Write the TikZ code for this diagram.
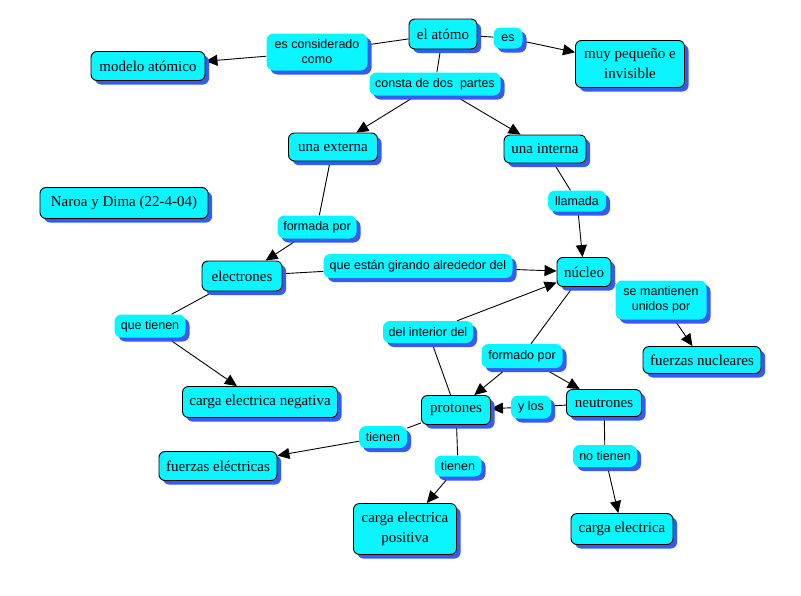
\documentclass[tikz,border=0pt]{standalone}
\usepackage{fontspec}
\setmainfont{Liberation Serif}
\newfontfamily\linkfont{Liberation Sans}
\usetikzlibrary{arrows.meta,shadows,backgrounds}
\definecolor{cmapcyan}{RGB}{10,245,255}
\definecolor{cmapshadow}{RGB}{55,90,240}
\tikzset{
  concept/.style={draw=black, line width=0.9pt, fill=cmapcyan, rounded corners=6pt,
    drop shadow={shadow xshift=4pt, shadow yshift=-4pt, fill=cmapshadow, opacity=1},
    font=\fontsize{15}{20}\selectfont, align=center, inner sep=1pt},
  linkph/.style={fill=cmapcyan, rounded corners=7pt,
    drop shadow={shadow xshift=4pt, shadow yshift=-4pt, fill=cmapshadow, opacity=1},
    font=\linkfont\fontsize{12.5}{15}\selectfont, align=center, inner sep=1pt},
  conn/.style={line width=0.9pt, draw=black},
  arr/.style={conn, -{Triangle[length=12pt,width=11pt]}},
}
\begin{document}
\begin{tikzpicture}[x=1pt,y=-1pt]
\useasboundingbox (0,0) rectangle (801,595);
% concepts
\node[concept, minimum width=68pt, minimum height=30pt] (atomo) at (443,34) {el atómo};
\node[concept, minimum width=114pt, minimum height=29pt] (modelo) at (148,66) {modelo atómico};
\node[concept, minimum width=109pt, minimum height=47pt] (muy) at (630,64) {muy pequeño e\\invisible};
\node[concept, minimum width=89pt, minimum height=28pt] (externa) at (333,147) {una externa};
\node[concept, minimum width=82pt, minimum height=28pt] (interna) at (545,149) {una interna};
\node[concept, minimum width=168pt, minimum height=31pt] (naroa) at (124,203) {Naroa y Dima (22-4-04)};
\node[concept, minimum width=80pt, minimum height=30pt] (electrones) at (242,276) {electrones};
\node[concept, minimum width=54pt, minimum height=29pt] (nucleo) at (584,272) {núcleo};
\node[concept, minimum width=118pt, minimum height=27pt] (fnuc) at (702,360) {fuerzas nucleares};
\node[concept, minimum width=155pt, minimum height=31pt] (cneg) at (260,402) {carga electrica negativa};
\node[concept, minimum width=69pt, minimum height=29pt] (protones) at (456,410) {protones};
\node[concept, minimum width=118pt, minimum height=29pt] (felec) at (218,466) {fuerzas eléctricas};
\node[concept, minimum width=103pt, minimum height=51pt] (cpos) at (405,529) {carga electrica\\positiva};
\node[concept, minimum width=75pt, minimum height=27pt] (neutrones) at (604,403) {neutrones};
\node[concept, minimum width=102pt, minimum height=31pt] (carga) at (622,529) {carga electrica};
% linking phrases
\node[linkph, minimum width=101pt, minimum height=37pt] (esc) at (317,52) {es considerado\\como};
\node[linkph, minimum width=29pt, minimum height=21pt] (es) at (508,38) {es};
\node[linkph, minimum width=131pt, minimum height=23pt] (consta) at (435,84) {consta de dos\ \ partes};
\node[linkph, minimum width=79pt, minimum height=23pt] (formada) at (317,227) {formada por};
\node[linkph, minimum width=58pt, minimum height=21pt] (llamada) at (577,201) {llamada};
\node[linkph, minimum width=189pt, minimum height=24pt] (girando) at (418,266) {que están girando alrededor del};
\node[linkph, minimum width=91pt, minimum height=39pt] (mantienen) at (661,300) {se mantienen\\unidos por};
\node[linkph, minimum width=71pt, minimum height=23pt] (quetienen) at (150,326) {que tienen};
\node[linkph, minimum width=90pt, minimum height=22pt] (interior) at (428,332) {del interior del};
\node[linkph, minimum width=81pt, minimum height=24pt] (formado) at (522,356) {formado por};
\node[linkph, minimum width=40pt, minimum height=23pt] (ylos) at (531,407) {y los};
\node[linkph, minimum width=48pt, minimum height=22pt] (tienena) at (383,437) {tienen};
\node[linkph, minimum width=47pt, minimum height=21pt] (tienenb) at (458,466) {tienen};
\node[linkph, minimum width=64pt, minimum height=22pt] (notienen) at (605,456) {no tienen};
% connectors
\begin{scope}[on background layer]
\fill[white] (0,0) rectangle (801,595);
\draw[conn] (atomo) -- (esc);
\draw[arr] (esc) -- (modelo);
\draw[conn] (atomo) -- (es);
\draw[arr] (es) -- (muy);
\draw[conn] (atomo) -- (consta);
\draw[arr] (consta) -- (externa);
\draw[arr] (consta) -- (interna);
\draw[conn] (externa) -- (formada);
\draw[arr] (formada) -- (electrones);
\draw[conn] (interna) -- (llamada);
\draw[arr] (llamada) -- (nucleo);
\draw[conn] (electrones) -- (girando);
\draw[arr] (girando) -- (nucleo);
\draw[conn] (nucleo) -- (mantienen);
\draw[arr] (mantienen) -- (fnuc);
\draw[conn] (electrones) -- (quetienen);
\draw[arr] (quetienen) -- (cneg);
\draw[conn] (protones) -- (interior);
\draw[arr] (interior) -- (nucleo);
\draw[conn] (nucleo) -- (formado);
\draw[arr] (formado) -- (protones);
\draw[arr] (formado) -- (neutrones);
\draw[conn] (neutrones) -- (ylos);
\draw[arr] (ylos) -- (protones);
\draw[conn] (protones) -- (tienena);
\draw[arr] (tienena) -- (felec);
\draw[conn] (protones) -- (tienenb);
\draw[arr] (tienenb) -- (cpos);
\draw[conn] (neutrones) -- (notienen);
\draw[arr] (notienen) -- (carga);
\end{scope}
\end{tikzpicture}
\end{document}
